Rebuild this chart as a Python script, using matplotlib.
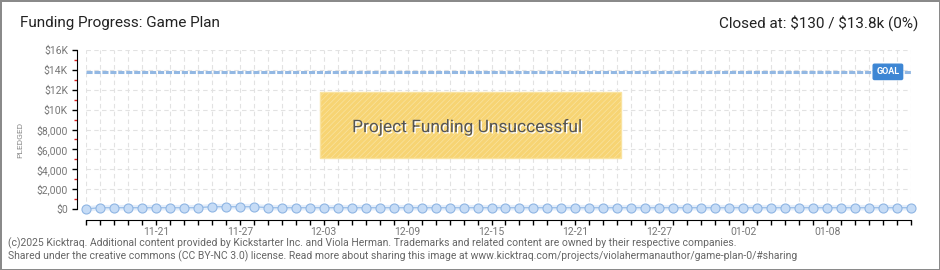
import matplotlib
matplotlib.use('Agg')
import matplotlib.pyplot as plt
import matplotlib.patheffects as pe
from matplotlib.patches import Rectangle
import pandas as pd

# data
dates = pd.date_range('2024-11-16', '2025-01-14', freq='D')
pledged = [0, 130, 130, 130, 130, 130, 130, 130, 130, 230,
           230, 230, 230, 130, 130, 130, 130, 130, 130, 130,
           130, 130, 130, 130, 130, 130, 130, 130, 130, 130,
           130, 130, 130, 130, 130, 130, 130, 130, 130, 130,
           130, 130, 130, 130, 130, 130, 130, 130, 130, 130,
           130, 130, 130, 130, 130, 130, 130, 130, 130, 130]
goal = 13800
y_ticks = [0, 2000, 4000, 6000, 8000, 10000, 12000, 14000, 16000]
y_labels = ['$0', '$2,000', '$4,000', '$6,000', '$8,000', '$10K', '$12K', '$14K', '$16K']
x_label_dates = ['2024-11-21', '2024-11-27', '2024-12-03', '2024-12-09', '2024-12-15',
                 '2024-12-21', '2024-12-27', '2025-01-02', '2025-01-08']

plt.rcParams['hatch.color'] = '#f1cd66'
plt.rcParams['hatch.linewidth'] = 0.5
font = ['Roboto', 'DejaVu Sans']

fig = plt.figure(figsize=(9.4, 2.7), dpi=100)
fig.patch.set_facecolor('white')
fig.patch.set_edgecolor('#8a8a8a')
fig.patch.set_linewidth(2)

ax = fig.add_axes([86/940, 61/270, 825/940, 159/270])
ax.set_xlim(dates[0], dates[-1])
ax.set_ylim(0, 16000)

# grid
for d in dates:
    ax.axvline(d, color='#e2e2e2', lw=0.8, ls=(0, (4, 3)), zorder=0)
for v in y_ticks[1:]:
    ax.axhline(v, color='#e2e2e2', lw=0.8, ls=(0, (4, 3)), zorder=0)

# goal line
ax.plot([dates[0], dates[-1]], [goal, goal], color='#93b8e3', lw=2.2,
        ls=(0, (2, 0.6)), zorder=2)
ax.text(0.972, goal / 16000, 'GOAL', transform=ax.transAxes, ha='center', va='center',
        color='white', fontsize=6.5, fontweight='bold', zorder=6, family=font,
        bbox=dict(boxstyle='round,pad=0.35,rounding_size=0.15', fc='#3d86d4', ec='#3d86d4'))

# pledged series
ax.plot(dates, pledged, color='#e4eefa', lw=4, zorder=3, clip_on=False)
ax.plot(dates, pledged, color='#9fc2ea', lw=1, zorder=4, clip_on=False)
ax.plot(dates, pledged, 'o', ms=6.5, mfc='#c6dcf6', mec='#8fb5e3', mew=0.8,
        zorder=5, clip_on=False)

# unsuccessful box
box = Rectangle((0.2836, 0.3208), 0.3649, 0.415, transform=ax.transAxes,
                facecolor='#f7d473', edgecolor='#f9e3a0', lw=1, hatch='//////', zorder=7)
ax.add_patch(box)
ax.text(0.462, 0.515, 'Project Funding Unsuccessful', transform=ax.transAxes,
        ha='center', va='center', fontsize=12.5, color='#555555', family=font, zorder=8,
        path_effects=[pe.withSimplePatchShadow(offset=(1, -1), shadow_rgbFace='white', alpha=1)])

# spines
for s in ['top', 'right']:
    ax.spines[s].set_visible(False)
ax.spines['left'].set_position(('outward', 6.5))
ax.spines['bottom'].set_position(('outward', 8))
ax.spines['left'].set_bounds(0, 16000)

ax.set_yticks(y_ticks)
ax.set_yticklabels(y_labels)
ax.set_yticks([1000, 3000, 5000, 7000, 9000, 11000, 13000, 15000], minor=True)
ax.tick_params(axis='y', which='major', length=3.5, width=1, color='black',
               labelsize=7.5, labelcolor='#777777', pad=3)
ax.tick_params(axis='y', which='minor', length=2.5, width=1, color='#e02020')

ax.set_xticks(dates)
ax.set_xticklabels([d.strftime('%m-%d') if d.strftime('%Y-%m-%d') in x_label_dates else ''
                    for d in dates])
ax.tick_params(axis='x', which='major', length=3.5, width=1, color='black',
               labelsize=7.5, labelcolor='#777777', pad=1.5)
for lab in ax.get_xticklabels() + ax.get_yticklabels():
    lab.set_family(font)

fig.text(20/940, 130/270, 'PLEDGED', rotation=90, ha='center', va='center',
         fontsize=6, color='#888888', family=font)

# header
fig.text(20/940, 1 - 23/270, 'Funding Progress: Game Plan', ha='left', va='center',
         fontsize=11, color='#222222', family=font)
fig.text(918/940, 1 - 23/270, r'Closed at: \$130 / \$13.8k (0%)', ha='right', va='center',
         fontsize=11, color='#222222', family=font)

# footer
fig.text(8/940, 1 - 243/270, '(c)2025 Kicktraq. Additional content provided by Kickstarter Inc. and Viola Herman. '
         'Trademarks and related content are owned by their respective companies.',
         ha='left', va='center', fontsize=7.5, color='#666666', family=font)
fig.text(8/940, 1 - 256/270, 'Shared under the creative commons (CC BY-NC 3.0) license. Read more about sharing '
         'this image at www.kicktraq.com/projects/violahermanauthor/game-plan-0/#sharing',
         ha='left', va='center', fontsize=7.5, color='#666666', family=font)

fig.savefig('out.png', dpi=100, facecolor=fig.get_facecolor(), edgecolor=fig.get_edgecolor())
